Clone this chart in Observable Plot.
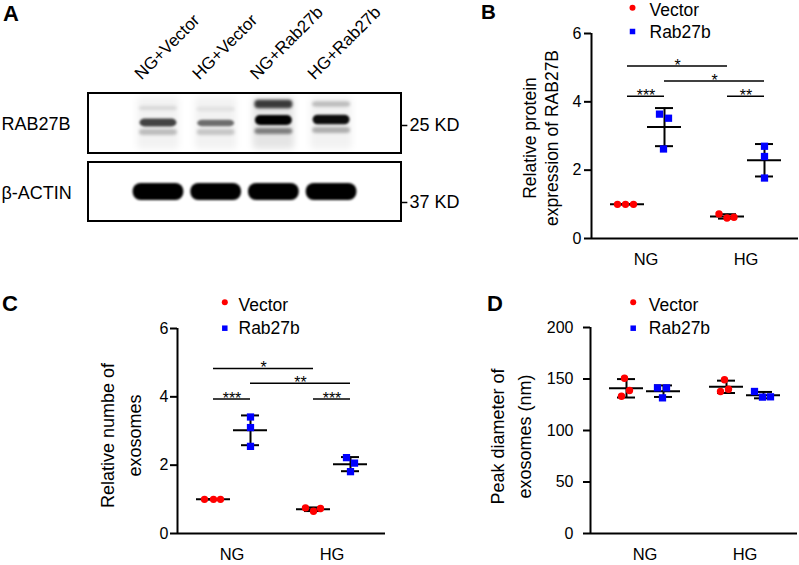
<!DOCTYPE html>
<html><head><meta charset="utf-8">
<script src="https://cdn.jsdelivr.net/npm/d3@7"></script>
<script src="https://cdn.jsdelivr.net/npm/@observablehq/plot@0.6"></script>
<style>
body{margin:0;background:#fff;}
#fig{position:relative;width:799px;height:565px;overflow:hidden;background:#fff;font-family:'Liberation Sans',Arial,Helvetica,sans-serif;}
.pn{position:absolute;}
</style></head><body><div id="fig"></div>
<script>
// ---------- data ----------
const groups = ["NG", "HG"];
const series = ["Vector", "Rab27b"];
const seriesColors = ["#ff0000", "#0000ff"];
const seriesSymbols = ["circle", "square"];

// Panel A (western blot) – lane names, band intensities (0-1)
const lanes = ["NG+Vector", "HG+Vector", "NG+Rab27b", "HG+Rab27b"];
const blotRows = ["RAB27B", "β-ACTIN"];
const markerLabels = ["25 KD", "37 KD"];
const rab27bMainBand = [0.72, 0.55, 1.0, 0.95];
const rab27bUpperBand = [0.10, 0.07, 0.75, 0.22];
const rab27bLowerBand = [0.22, 0.18, 0.45, 0.28];
const rab27bLaneHaze = [0.05, 0.05, 0.10, 0.05];
const actinBand = [1, 1, 1, 1];

// Panel B – relative protein expression of RAB27B
const proteinNGVector = [1.00, 1.00, 1.00];
const proteinNGRab27b = [3.64, 3.52, 2.62];
const proteinHGVector = [0.72, 0.60, 0.62];
const proteinHGRab27b = [2.70, 2.40, 1.77];
const proteinTicks = [0, 2, 4, 6];
const proteinSig = [
  ["NG", "Vector", "HG", "Vector", 5.05, "*"],
  ["NG", "Rab27b", "HG", "Rab27b", 4.61, "*"],
  ["NG", "Vector", "NG", "Rab27b", 4.16, "***"],
  ["HG", "Vector", "HG", "Rab27b", 4.16, "**"]
];

// Panel C – relative number of exosomes
const exoNumNGVector = [1.00, 1.00, 1.00];
const exoNumNGRab27b = [3.41, 3.10, 2.55];
const exoNumHGVector = [0.75, 0.65, 0.73];
const exoNumHGRab27b = [2.22, 2.06, 1.81];
const exoNumTicks = [0, 2, 4, 6];
const exoNumSig = [
  ["NG", "Vector", "HG", "Vector", 4.83, "*"],
  ["NG", "Rab27b", "HG", "Rab27b", 4.40, "**"],
  ["NG", "Vector", "NG", "Rab27b", 3.94, "***"],
  ["HG", "Vector", "HG", "Rab27b", 3.94, "***"]
];

// Panel D – peak diameter of exosomes (nm)
const diamNGVector = [150.8, 138.8, 133.3];
const diamNGRab27b = [141.4, 141.4, 131.7];
const diamHGVector = [149.2, 140.1, 137.9];
const diamHGRab27b = [137.9, 132.4, 132.7];
const diamTicks = [0, 50, 100, 150, 200];

// ---------- layout ----------
const FONT = "'Liberation Sans', Arial, Helvetica, sans-serif";
const baseStyle = {fontFamily: FONT, fontSize: "16px", color: "#000", background: "transparent", overflow: "visible"};
const fig = document.getElementById("fig");
function place(el, left, top) {
  const d = document.createElement("div");
  d.className = "pn"; d.style.left = left + "px"; d.style.top = top + "px";
  d.appendChild(el); fig.appendChild(d);
}

// ---------- Panel A ----------
const laneIdx = lanes.map((_, i) => i);
const blotX = [-1.213, 4.212];
const memY = [[0, 60], [69, 128]];
const rowLabelY = [31, 99.5];
const markerY = [32, 109];
const bandY = {main: [29.5, 30, 27, 26.5], upper: [15, 16, 11, 11], lower: [39, 39, 38, 37], actin: 98.5};

const panelA = Plot.plot({
  width: 480, height: 280,
  marginLeft: 88, marginRight: 79, marginTop: 93, marginBottom: 59,
  x: {domain: blotX, axis: null},
  y: {domain: [0, 128], reverse: true, axis: null},
  opacity: {type: "identity"},
  style: baseStyle,
  marks: [
    Plot.rect(laneIdx, {x1: i => i - 0.36, x2: i => i + 0.36, y1: 4, y2: 56, fill: "#000",
      fillOpacity: i => rab27bLaneHaze[i], rx: 4, ariaDescription: "haze"}),
    Plot.rect(laneIdx, {x1: i => i - 0.33, x2: i => i + 0.33,
      y1: i => bandY.upper[i] - 2 - 3 * rab27bUpperBand[i], y2: i => bandY.upper[i] + 2 + 3 * rab27bUpperBand[i],
      fill: "#000", fillOpacity: i => rab27bUpperBand[i], rx: 4, ariaDescription: "soft"}),
    Plot.rect(laneIdx, {x1: i => i - 0.33, x2: i => i + 0.33,
      y1: i => bandY.lower[i] - 3, y2: i => bandY.lower[i] + 3,
      fill: "#000", fillOpacity: i => rab27bLowerBand[i], rx: 4, ariaDescription: "soft"}),
    Plot.rect(laneIdx, {x1: i => i - 0.32, x2: i => i + 0.32,
      y1: i => bandY.main[i] - 1 - 4 * rab27bMainBand[i], y2: i => bandY.main[i] + 1 + 4 * rab27bMainBand[i],
      fill: "#000", fillOpacity: i => rab27bMainBand[i], rx: 5, ariaDescription: "band"}),
    Plot.rect(laneIdx, {x1: i => i - 0.44, x2: i => i + 0.44,
      y1: bandY.actin - 8.5, y2: bandY.actin + 8.5,
      fill: "#000", fillOpacity: i => actinBand[i], rx: 8, ariaDescription: "actin"}),
    Plot.rect(blotRows, {x1: blotX[0], x2: blotX[1], y1: (d, i) => memY[i][0], y2: (d, i) => memY[i][1],
      fill: "none", stroke: "#000", strokeWidth: 2}),
    Plot.text(lanes, {x: (d, i) => i, y: -13, dx: -17, rotate: -45, text: d => d,
      textAnchor: "start", lineAnchor: "bottom", fontSize: 17}),
    Plot.text(blotRows, {y: (d, i) => rowLabelY[i], frameAnchor: "left", dx: -87, text: d => d,
      textAnchor: "start", fontSize: 18}),
    Plot.ruleY(markerLabels, {y: (d, i) => markerY[i], x1: blotX[1], x2: blotX[1] + 0.11, strokeWidth: 1.5}),
    Plot.text(markerLabels, {y: (d, i) => markerY[i], frameAnchor: "right", dx: 8, text: d => d,
      textAnchor: "start", fontSize: 18})
  ]
});
{
  const s = d3.select(panelA);
  const defs = s.insert("defs", ":first-child");
  const blurs = {haze: 3, soft: 1.8, band: 1.3, actin: 1.0};
  for (const [k, sd] of Object.entries(blurs)) {
    defs.append("filter").attr("id", "blur-" + k).attr("filterUnits", "userSpaceOnUse")
      .attr("x", 0).attr("y", 0).attr("width", 480).attr("height", 280)
      .append("feGaussianBlur").attr("stdDeviation", sd);
    s.selectAll(`g[aria-description='${k}']`).attr("filter", `url(#blur-${k})`);
  }
}
place(panelA, 0, 0);

// ---------- dot-plot panels ----------
function dotPanel(cfg) {
  const OFF = 0.185;
  const xOf = (g, s) => groups.indexOf(g) + (s === series[0] ? -OFF : OFF);
  const pts = [], stats = [];
  cfg.sets.forEach(([g, s, vals], k) => {
    vals.forEach((v, r) => pts.push({g, s, v, x: xOf(g, s) + cfg.jitter[k][r] / 100}));
    const m = d3.mean(vals), sd = d3.deviation(vals);
    stats.push({g, s, x: xOf(g, s), m, lo: m - sd, hi: m + sd});
  });
  const sig = (cfg.sig || []).map(([g1, s1, g2, s2, y, label]) => ({x1: xOf(g1, s1), x2: xOf(g2, s2), y, label}));
  const x0 = -0.545;
  const lg = cfg.legend;
  const legendMarks = series.flatMap((name, i) => [
    Plot.dot([name], {frameAnchor: "top-left", dx: lg.dotX, dy: lg.rowY[i], fill: d => d, symbol: d => d, r: i ? 3.1 : 3}),
    Plot.text([name], {frameAnchor: "top-left", dx: lg.textX, dy: lg.baseY[i], text: d => d,
      textAnchor: "start", lineAnchor: "bottom", fontSize: 17.5})
  ]);
  const titleMarks = cfg.title.map((t, i) =>
    Plot.text([t], {frameAnchor: "left", dx: cfg.titleDx[i], dy: cfg.titleDy, rotate: -90, text: d => d,
      fontSize: cfg.titleSize, textAnchor: "middle", lineAnchor: "middle"}));
  return Plot.plot({
    width: cfg.width, height: cfg.height,
    marginLeft: cfg.ml, marginRight: cfg.width - cfg.ml - cfg.L, marginTop: cfg.mt, marginBottom: cfg.mb,
    x: {domain: [x0, x0 + cfg.L / 100]},
    y: {domain: [0, cfg.ymax]},
    color: {domain: series, range: seriesColors},
    symbol: {domain: series, range: seriesSymbols},
    style: baseStyle,
    marks: [
      Plot.axisY({ticks: cfg.ticks, tickFormat: d => String(d), tickSize: 7, tickPadding: cfg.tickPad,
        strokeWidth: 2, label: null, fontSize: 16}),
      Plot.axisX({ticks: [0, 1], tickFormat: i => groups[i], tickSize: 0, tickPadding: 15, label: null, fontSize: 16.5}),
      Plot.ruleX([x0], {y1: 0, y2: cfg.ymax, strokeWidth: 2}),
      Plot.ruleY([0], {strokeWidth: 2}),
      Plot.ruleY(sig, {x1: "x1", x2: "x2", y: "y", strokeWidth: 1.5}),
      Plot.text(sig, {x: d => (d.x1 + d.x2) / 2, y: "y", text: "label", lineAnchor: "bottom", dy: 5, fontSize: 16}),
      Plot.ruleX(stats, {x: "x", y1: "lo", y2: "hi", strokeWidth: 2}),
      Plot.ruleY(stats, {y: "lo", x1: d => d.x - 0.09, x2: d => d.x + 0.09, strokeWidth: 2}),
      Plot.ruleY(stats, {y: "hi", x1: d => d.x - 0.09, x2: d => d.x + 0.09, strokeWidth: 2}),
      Plot.ruleY(stats, {y: "m", x1: d => d.x - 0.17, x2: d => d.x + 0.17, strokeWidth: 2}),
      Plot.dot(pts.filter(d => d.s === series[0]), {x: "x", y: "v", fill: "s", symbol: "s", r: 3.7}),
      Plot.dot(pts.filter(d => d.s === series[1]), {x: "x", y: "v", fill: "s", symbol: "s", r: 4.1}),
      ...legendMarks,
      ...titleMarks
    ]
  });
}

const panelB = dotPanel({
  width: 319, height: 280, ml: 111, L: 207, mt: 33, mb: 42, ymax: 6, ticks: proteinTicks, tickPad: 3,
  sets: [["NG", "Vector", proteinNGVector], ["NG", "Rab27b", proteinNGRab27b],
         ["HG", "Vector", proteinHGVector], ["HG", "Rab27b", proteinHGRab27b]],
  jitter: [[-10, -2, 6], [-5, 4, -1], [-8.5, -0.5, 6.5], [0, 0, 0]],
  sig: proteinSig,
  legend: {dotX: 41, rowY: [-25.7, -2], textX: 58, baseY: [-18, 4.3]},
  title: ["Relative protein", "expression of RAB27B"], titleDx: [-61, -39], titleDy: 2, titleSize: 17.5
});
place(panelB, 480, 0);

const panelC = dotPanel({
  width: 400, height: 285, ml: 177, L: 208, mt: 48, mb: 32, ymax: 6, ticks: exoNumTicks, tickPad: 2,
  sets: [["NG", "Vector", exoNumNGVector], ["NG", "Rab27b", exoNumNGRab27b],
         ["HG", "Vector", exoNumHGVector], ["HG", "Rab27b", exoNumHGRab27b]],
  jitter: [[-9, 0, 7], [0, 0, 0], [-8, 0, 7], [-4, 4, 0]],
  sig: exoNumSig,
  legend: {dotX: 47.3, rowY: [-26.3, -0.3], textX: 61, baseY: [-18, 5.3]},
  title: ["Relative numbe of", "exosomes"], titleDx: [-69, -42], titleDy: 4.5, titleSize: 18
});
place(panelC, 0, 280);

const panelD = dotPanel({
  width: 399, height: 285, ml: 190, L: 207, mt: 47, mb: 32, ymax: 200, ticks: diamTicks, tickPad: 10,
  sets: [["NG", "Vector", diamNGVector], ["NG", "Rab27b", diamNGRab27b],
         ["HG", "Vector", diamHGVector], ["HG", "Rab27b", diamHGRab27b]],
  jitter: [[-2, 3, -5], [-6, 3, -1], [-2, 2, -6], [-9, -1, 7]],
  sig: [],
  legend: {dotX: 42.7, rowY: [-25.3, 0.7], textX: 58.3, baseY: [-17, 6.3]},
  title: ["Peak diameter of", "exosomes (nm)"], titleDx: [-92, -65], titleDy: 6, titleSize: 18
});
place(panelD, 400, 280);

// ---------- panel letters ----------
const letters = ["A", "B", "C", "D"];
const letterPos = [[3, 21], [481, 18.5], [2, 310.5], [487, 310.5]];
const ov = d3.select(fig).append("svg").attr("width", 799).attr("height", 565)
  .style("position", "absolute").style("left", 0).style("top", 0).style("pointer-events", "none");
ov.selectAll("text").data(letters).join("text")
  .attr("x", (d, i) => letterPos[i][0]).attr("y", (d, i) => letterPos[i][1])
  .attr("font-family", FONT).attr("font-weight", "bold").attr("font-size", (d, i) => i === 1 ? 20.5 : 22).text(d => d);
</script></body></html>
